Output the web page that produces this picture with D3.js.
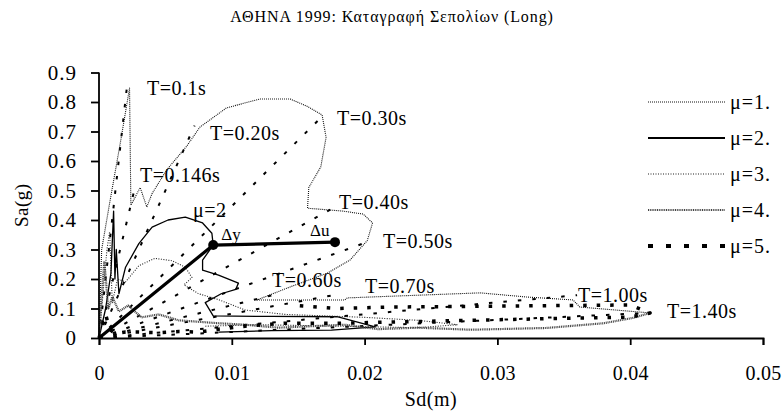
<!DOCTYPE html>
<html><head><meta charset="utf-8">
<script src="https://cdn.jsdelivr.net/npm/d3@7"></script>
<style>
body{margin:0;background:#fff}
</style>
</head><body>
<svg id="c" width="782" height="412"></svg>
<script>
// ---------- data ----------
const title = "ΑΘΗΝΑ 1999: Καταγραφή Σεπολίων (Long)";
const xLabel = "Sd(m)";
const yLabel = "Sa(g)";
const xTicks = [0, 0.01, 0.02, 0.03, 0.04, 0.05];
const xTickLabels = ["0", "0.01", "0.02", "0.03", "0.04", "0.05"];
const yTicks = [0, 0.1, 0.2, 0.3, 0.4, 0.5, 0.6, 0.7, 0.8, 0.9];
const yTickLabels = ["0", "0.1", "0.2", "0.3", "0.4", "0.5", "0.6", "0.7", "0.8", "0.9"];

const legendLabels = ["μ=1.", "μ=2.", "μ=3.", "μ=4.", "μ=5."];

// μ=1 demand spectrum (Sd in m, Sa in g)
const sdMu1 = [0, 0.0002, 0.0008, 0.0016, 0.0023, 0.0024, 0.0031, 0.0036, 0.0040, 0.0051, 0.0066, 0.0076, 0.0096, 0.0121, 0.0144, 0.0157, 0.0168, 0.0171, 0.0167, 0.0158, 0.0157, 0.0184, 0.0199, 0.0206, 0.0202, 0.0189, 0.0172, 0.0145, 0.0119, 0.0185, 0.0187, 0.0287, 0.0322, 0.0357, 0.0362, 0.0415];
const saMu1 = [0, 0.30, 0.457, 0.66, 0.847, 0.45, 0.51, 0.444, 0.49, 0.57, 0.65, 0.715, 0.78, 0.81, 0.81, 0.785, 0.756, 0.68, 0.58, 0.51, 0.44, 0.43, 0.42, 0.39, 0.33, 0.264, 0.22, 0.175, 0.129, 0.129, 0.136, 0.153, 0.139, 0.129, 0.105, 0.085];
// μ=2
const sdMu2 = [0, 0.0005, 0.0009, 0.0011, 0.0012, 0.0013, 0.0015, 0.0020, 0.0030, 0.0040, 0.0052, 0.0065, 0.0078, 0.0085, 0.0086, 0.0078, 0.0078, 0.0090, 0.0105, 0.0103, 0.0092, 0.0080, 0.0086, 0.0130, 0.0180, 0.0208, 0.0175, 0.0130, 0.0090];
const saMu2 = [0, 0.10, 0.22, 0.43, 0.20, 0.30, 0.15, 0.24, 0.32, 0.376, 0.40, 0.41, 0.39, 0.355, 0.315, 0.264, 0.23, 0.213, 0.186, 0.165, 0.15, 0.12, 0.075, 0.073, 0.072, 0.038, 0.027, 0.025, 0.02];
// μ=3
const sdMu3 = [0, 0.0003, 0.0006, 0.0008, 0.0010, 0.0014, 0.0020, 0.0030, 0.0042, 0.0055, 0.0065, 0.0070, 0.0064, 0.0075, 0.0090, 0.0110, 0.0140, 0.0170, 0.0200, 0.0240, 0.0270, 0.0240, 0.0180, 0.0120, 0.0080];
const saMu3 = [0, 0.15, 0.30, 0.36, 0.12, 0.20, 0.19, 0.245, 0.27, 0.262, 0.24, 0.205, 0.18, 0.15, 0.13, 0.095, 0.08, 0.075, 0.07, 0.06, 0.045, 0.035, 0.04, 0.045, 0.04];
// μ=4
const sdMu4 = [0, 0.0002, 0.0004, 0.0007, 0.0010, 0.0015, 0.0022, 0.0032, 0.0045, 0.0060, 0.0075, 0.0090, 0.0110, 0.0135, 0.0160, 0.0185, 0.0210, 0.0240, 0.0280, 0.0337, 0.0380, 0.0402, 0.0415];
const saMu4 = [0, 0.14, 0.26, 0.10, 0.14, 0.09, 0.11, 0.07, 0.08, 0.06, 0.055, 0.05, 0.045, 0.035, 0.04, 0.045, 0.03, 0.035, 0.028, 0.034, 0.05, 0.068, 0.085];
// μ=5
const sdMu5 = [0, 0.0005, 0.0008, 0.0012, 0.0020, 0.0030, 0.0045, 0.0060, 0.0075, 0.0090, 0.0110, 0.0140, 0.0180, 0.0220, 0.0300, 0.0400, 0.0415, 0.0400, 0.0300, 0.0220, 0.0180, 0.0150];
const saMu5 = [0, 0.08, 0.03, 0.015, 0.02, 0.02, 0.018, 0.022, 0.02, 0.03, 0.04, 0.05, 0.05, 0.054, 0.062, 0.071, 0.085, 0.112, 0.108, 0.105, 0.10, 0.11];

// radial period lines: end point of each line on the elastic spectrum
const periodLabels = ["T=0.1s", "T=0.146s", "T=0.20s", "T=0.30s", "T=0.40s", "T=0.50s", "T=0.60s", "T=0.70s", "T=1.00s", "T=1.40s"];
const periodSd = [0.0021, 0.0026, 0.0072, 0.0170, 0.0180, 0.0205, 0.0135, 0.0180, 0.0360, 0.0415];
const periodSa = [0.85, 0.49, 0.72, 0.76, 0.45, 0.33, 0.15, 0.148, 0.145, 0.085];
const periodLabelSd = [0.00361, 0.00309, 0.00836, 0.01792, 0.01807, 0.02139, 0.01303, 0.02003, 0.03607, 0.04277];
const periodLabelSa = [0.824, 0.529, 0.671, 0.722, 0.437, 0.305, 0.173, 0.153, 0.122, 0.068];

// bilinear capacity curve
const capNames = ["", "Δy", "Δu"];
const capSd = [0, 0.0086, 0.01777];
const capSa = [0, 0.315, 0.325];

// ---------- drawing ----------
const FONT = "'Liberation Serif'";
const svg = d3.select("#c");
const x = d3.scaleLinear().domain([0, 0.05]).range([99, 763]);
const y = d3.scaleLinear().domain([0, 0.9]).range([338, 72.5]);

function txt(sel, size, ls) {
  return sel.attr("font-family", FONT).style("font-family", FONT)
    .attr("font-size", size).style("font-size", size + "px")
    .style("letter-spacing", (ls || 0) + "px").attr("fill", "#000");
}

txt(svg.append("text"), 16, 0.9).attr("x", 392).attr("y", 22).attr("text-anchor", "middle").text(title);

const plot = svg.append("g");

const styles = [
  {stroke: "#111", width: 1.1, dash: "1,1"},
  {stroke: "#000", width: 1.3, dash: null},
  {stroke: "#222", width: 1.1, dash: "1,1.5"},
  {stroke: "#444", width: 2.2, dash: "1,0.8"},
  {stroke: "#000", width: 3.5, dash: "3.5,10"}
];
const series = [[sdMu1, saMu1], [sdMu2, saMu2], [sdMu3, saMu3], [sdMu4, saMu4], [sdMu5, saMu5]];
const line = d3.line().x(d => x(d[0])).y(d => y(d[1]));

// period lines
periodSd.forEach((sd, i) => {
  plot.append("path").attr("d", line([[0, 0], [sd, periodSa[i]]]))
    .attr("fill", "none").attr("stroke", "#000").attr("stroke-width", 2)
    .attr("stroke-dasharray", "3.5,11");
});

series.forEach((s, i) => {
  const pts = s[0].map((v, j) => [v, s[1][j]]);
  plot.append("path").attr("d", line(pts)).attr("fill", "none")
    .attr("stroke", styles[i].stroke).attr("stroke-width", styles[i].width)
    .attr("stroke-dasharray", styles[i].dash).attr("stroke-linejoin", "round");
});

// capacity curve
const capPts = capSd.map((v, j) => [v, capSa[j]]);
plot.append("path").attr("d", line(capPts)).attr("fill", "none")
  .attr("stroke", "#000").attr("stroke-width", 3.2);
plot.selectAll("circle.cap").data(capPts.slice(1)).enter().append("circle")
  .attr("cx", d => x(d[0])).attr("cy", d => y(d[1])).attr("r", 5).attr("fill", "#000");
txt(plot.append("text"), 17).attr("x", x(capSd[1]) + 8).attr("y", y(capSa[1]) - 5).text(capNames[1]);
txt(plot.append("text"), 17).attr("x", x(capSd[2]) - 25).attr("y", y(capSa[2]) - 6).text(capNames[2]);
txt(plot.append("text"), 20, 0.5).attr("x", x(0.00708)).attr("y", y(0.41)).text("μ=2");

// period labels
periodLabels.forEach((t, i) => {
  txt(plot.append("text"), 20, 0.5).attr("x", x(periodLabelSd[i])).attr("y", y(periodLabelSa[i])).text(t);
});

// axes
const xAxis = d3.axisBottom(x).tickValues(xTicks).tickFormat((d, i) => xTickLabels[i])
  .tickSizeInner(7).tickSizeOuter(7).tickPadding(21);
const gx = svg.append("g").attr("transform", `translate(0,${y(0)})`).call(xAxis);
const yAxis = d3.axisLeft(y).tickValues(yTicks).tickFormat((d, i) => yTickLabels[i])
  .tickSizeInner(8).tickSizeOuter(0).tickPadding(14);
const gy = svg.append("g").attr("transform", `translate(${x(0)},0)`).call(yAxis);
[gx, gy].forEach(g => {
  g.attr("font-family", FONT);
  g.selectAll("path, line").attr("stroke", "#000").attr("stroke-width", 1.8);
});
txt(gy.selectAll("text"), 21, 1);
txt(gx.selectAll("text"), 20, 0.2);
gy.select(".domain").attr("d", `M0,${y(0.9)}V${y(0)}`);

txt(svg.append("text"), 20, 0.5).attr("x", (x(0) + x(0.05)) / 2).attr("y", 406).attr("text-anchor", "middle").text(xLabel);
txt(svg.append("text"), 19, 0.5).attr("transform", `translate(28,${(y(0) + y(0.9)) / 2}) rotate(-90)`)
  .attr("text-anchor", "middle").text(yLabel);

// legend
const lg = svg.append("g");
legendLabels.forEach((l, i) => {
  const yy = 102 + i * 36;
  lg.append("line").attr("x1", 648).attr("x2", 725).attr("y1", yy).attr("y2", yy)
    .attr("stroke", styles[i].stroke).attr("stroke-width", i === 4 ? 4 : styles[i].width + (i === 1 ? 0.5 : 0))
    .attr("stroke-dasharray", i === 4 ? "5,13" : styles[i].dash);
  txt(lg.append("text"), 20, 1).attr("x", 730).attr("y", yy + 7).text(l);
});
</script>
</body></html>
